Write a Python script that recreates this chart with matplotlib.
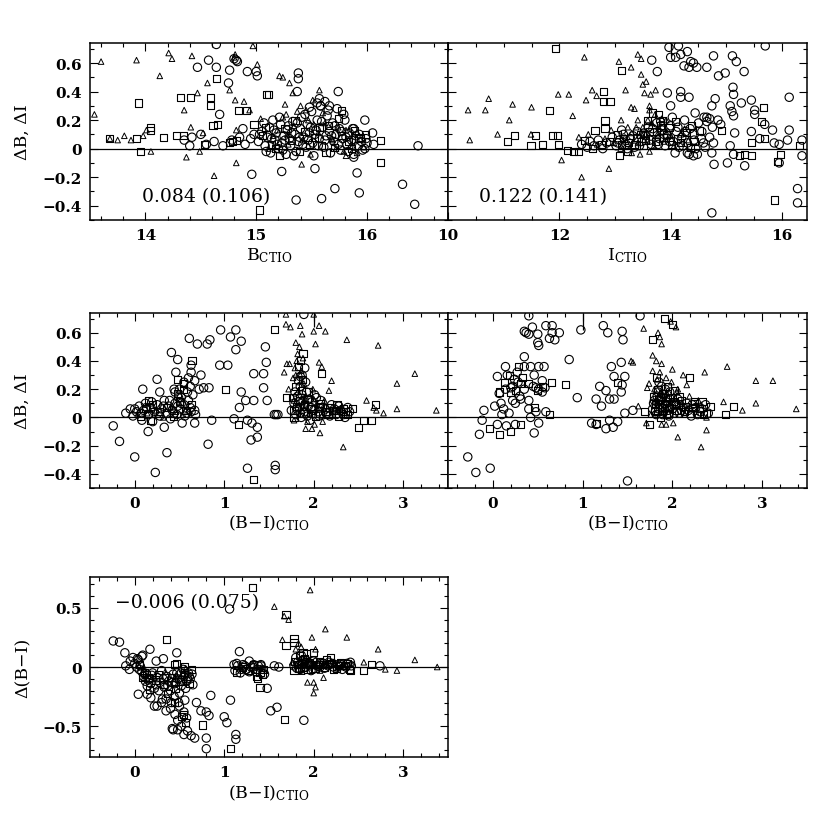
import matplotlib
matplotlib.use("Agg")
from matplotlib import pyplot as plt
from matplotlib.ticker import MultipleLocator, FuncFormatter

plt.rcParams['font.family'] = ['DejaVu Serif']
plt.rcParams['mathtext.fontset'] = 'dejavuserif'

# ---- panel 1: dB vs B_CTIO ----
p1_circ_x = [14.64, 14.47, 14.57, 14.64, 14.76, 14.75, 14.80, 14.82, 14.83, 14.92, 15.01, 15.00, 15.38, 15.38,
             15.37, 15.57, 15.58, 15.74, 15.98, 15.88, 16.05, 16.06, 16.46, 16.32, 16.43, 15.88, 15.91, 15.93,
             15.71, 15.59, 15.36, 15.53, 15.23, 14.96, 14.67,
             14.35, 14.42, 14.40, 14.55, 14.62, 14.70, 14.78, 14.85, 14.90, 14.95, 14.98, 14.88, 14.50,
             15.02, 15.05, 15.07, 15.08, 15.10, 15.12, 15.13, 15.15, 15.17, 15.18, 15.20, 15.22, 15.23, 15.25,
             15.27, 15.28, 15.30, 15.31, 15.33, 15.35, 15.36, 15.38, 15.40, 15.41, 15.43, 15.45, 15.46, 15.48,
             15.50, 15.51, 15.52, 15.54, 15.55, 15.57, 15.58, 15.60, 15.61, 15.63, 15.64, 15.66, 15.67, 15.69,
             15.70, 15.72, 15.73, 15.75, 15.76, 15.78, 15.80, 15.82, 15.84, 15.86, 15.88, 15.90, 15.92, 15.95,
             15.98, 16.00]
p1_circ_y = [0.73, 0.57, 0.62, 0.57, 0.55, 0.46, 0.63, 0.62, 0.61, 0.54, 0.51, 0.54, 0.53, 0.49,
             0.40, 0.35, 0.30, 0.40, 0.20, 0.14, 0.11, 0.03, 0.02, -0.25, -0.39, -0.06, -0.17, -0.31,
             -0.28, -0.35, -0.36, -0.14, -0.16, -0.18, 0.24,
             0.06, 0.08, 0.02, 0.03, 0.05, 0.02, 0.06, 0.08, 0.03, 0.07, 0.10, 0.14, 0.10,
             0.05, 0.12, 0.18, 0.02, 0.08, 0.15, -0.03, 0.20, 0.06, 0.11, 0.00, 0.17, 0.04, 0.09,
             -0.04, 0.13, 0.07, 0.02, 0.19, 0.10, -0.02, 0.05, 0.14, 0.22, 0.08, 0.01, 0.17, 0.11,
             0.26, 0.04, -0.05, 0.13, 0.20, 0.07, 0.30, 0.15, 0.01, 0.09, 0.23, 0.12, -0.03, 0.18,
             0.05, 0.10, 0.28, 0.14, -0.01, 0.07, 0.20, 0.03, 0.11, 0.06, -0.04, 0.09, 0.02, 0.05,
             0.00, 0.04]
p1_circ_x += [15.03, 15.09, 15.14, 15.16, 15.19, 15.21, 15.24, 15.26, 15.29, 15.32, 15.34, 15.37, 15.39, 15.42,
              15.44, 15.47, 15.49, 15.53, 15.56, 15.59, 15.62, 15.65, 15.68, 15.71, 15.74, 15.77, 15.79, 15.81,
              15.83, 15.87, 15.89, 15.93, 15.96, 15.99, 15.55, 15.62, 15.48, 15.66]
p1_circ_y += [0.10, -0.02, 0.07, 0.13, 0.03, 0.22, -0.01, 0.06, 0.16, 0.11, -0.05, 0.18, 0.08, 0.03,
              0.24, 0.06, 0.15, 0.10, 0.02, 0.19, 0.06, 0.27, 0.09, 0.16, 0.03, 0.12, 0.24, 0.08,
              -0.02, 0.14, 0.06, 0.10, -0.01, 0.07, 0.32, 0.33, 0.29, 0.30]
p1_sq_x = [13.94, 13.68, 13.92, 13.96, 14.05, 14.05, 14.16, 14.32, 14.41, 14.59, 14.59, 14.64, 14.61, 14.65,
           14.76, 14.84, 14.91, 14.98, 15.09, 15.11, 15.03, 15.77, 15.92, 16.12, 16.12, 14.28, 14.34, 14.53,
           14.79, 14.82,
           15.06, 15.14, 15.21, 15.26, 15.32, 15.39, 15.44, 15.53, 15.59, 15.65, 15.71, 15.77, 15.83, 15.89,
           15.94, 15.08, 15.17, 15.35, 15.48, 15.57, 15.63, 15.74, 15.86, 15.99]
p1_sq_y = [0.32, 0.07, 0.07, -0.02, 0.15, 0.13, 0.08, 0.36, 0.36, 0.36, 0.30, 0.49, 0.16, 0.17,
           0.04, 0.27, 0.27, 0.17, 0.38, 0.38, -0.43, 0.27, 0.07, 0.06, -0.10, 0.09, 0.09, 0.03,
           0.05, 0.06,
           0.09, 0.03, -0.05, 0.14, 0.06, -0.02, 0.12, 0.08, 0.02, 0.16, 0.01, 0.09, 0.05, 0.13,
           0.08, 0.15, 0.00, 0.20, 0.03, 0.15, -0.03, 0.21, 0.00, 0.10]
p1_tri_x = [13.60, 13.54, 13.92, 14.21, 14.24, 14.13, 14.42, 14.35, 14.41, 14.37, 14.62, 14.56, 14.47, 14.76,
            14.82, 14.81, 14.80, 14.81, 14.82, 14.97, 15.01, 14.89, 14.94, 15.41, 15.21, 15.24, 15.26, 15.27,
            15.30, 15.33, 15.57, 15.51, 15.45, 13.68, 13.75, 13.81, 13.87, 13.98, 14.01, 14.05, 15.81, 15.69,
            14.49, 14.52,
            15.04, 15.11, 15.19, 15.24, 15.29, 15.34, 15.37, 15.42, 15.47, 15.49, 15.56, 15.62, 15.68, 15.74,
            15.79, 15.85, 15.91, 15.97, 15.15, 15.28, 15.40, 15.52, 15.60, 15.72, 15.81]
p1_tri_y = [0.61, 0.24, 0.62, 0.67, 0.63, 0.51, 0.65, 0.27, 0.15, -0.06, -0.19, 0.46, 0.39, 0.41,
            0.13, 0.66, 0.64, 0.34, -0.10, 0.72, 0.59, 0.33, 0.27, -0.11, 0.51, 0.50, 0.31, 0.24,
            0.46, 0.39, 0.41, 0.34, 0.27, 0.07, 0.06, 0.09, 0.06, 0.09, 0.13, -0.02, -0.05, 0.06,
            -0.02, 0.11,
            0.21, 0.00, 0.13, 0.22, 0.03, 0.16, 0.26, 0.06, 0.20, -0.04, 0.11, 0.18, 0.07, 0.15,
            -0.02, 0.02, -0.03, 0.01, 0.09, 0.10, 0.30, 0.17, 0.25, 0.00, 0.13]

# ---- panel 2: dI vs I_CTIO ----
p2_circ_x = [13.97, 14.14, 14.00, 14.09, 14.18, 14.30, 14.36, 14.24, 14.33, 14.47, 14.41, 13.66, 13.76, 14.65,
             14.77, 15.11, 15.18, 15.32, 14.86, 14.98, 15.70, 15.12, 15.13, 13.94, 14.18, 14.18, 14.33, 14.80,
             14.74, 14.00, 14.44, 14.65, 15.07, 15.10, 15.27, 15.45, 15.51, 15.51, 16.13, 15.45, 15.15, 16.13,
             16.10, 16.36, 16.36, 15.95, 15.95, 14.78, 15.02, 15.33, 14.74, 16.28, 16.28, 14.41, 14.30, 14.74,
             14.77, 14.59, 15.07, 15.13, 15.69, 15.60, 15.83, 15.86, 15.13,
             12.40, 12.50, 12.55, 12.62, 12.70, 12.78, 12.85, 12.95, 13.02, 13.08, 13.15, 13.20, 13.28, 13.35,
             13.40, 13.48, 13.55, 13.60, 13.65, 13.70, 13.75, 13.80, 13.85, 13.90, 13.95, 14.00, 14.05, 14.10,
             14.15, 14.20, 14.25, 14.30, 14.35, 14.40, 14.45, 14.50, 14.55, 14.60, 14.65, 14.70, 14.75, 14.85,
             14.90]
p2_circ_y = [0.71, 0.72, 0.64, 0.64, 0.66, 0.68, 0.61, 0.58, 0.57, 0.57, 0.60, 0.62, 0.54, 0.57,
             0.65, 0.65, 0.61, 0.54, 0.51, 0.53, 0.72, 0.43, 0.38, 0.39, 0.40, 0.36, 0.36, 0.35,
             0.30, 0.30, 0.25, 0.22, 0.30, 0.26, 0.32, 0.34, 0.27, 0.24, 0.36, 0.12, 0.11, 0.13,
             0.06, 0.06, -0.05, 0.03, -0.10, -0.11, -0.10, -0.12, -0.45, -0.38, -0.28, -0.05, -0.03, -0.03,
             0.04, 0.04, 0.02, -0.04, 0.17, 0.07, 0.13, 0.04, 0.23,
             0.03, 0.01, 0.05, 0.02, 0.06, 0.00, 0.04, 0.08, 0.02, 0.06, 0.10, 0.03, 0.07, 0.01,
             0.12, 0.05, 0.09, 0.15, 0.03, 0.11, 0.18, 0.07, 0.13, 0.02, 0.09, 0.16, 0.05, 0.12,
             0.01, 0.08, 0.20, 0.04, 0.14, 0.10, 0.00, 0.18, 0.07, 0.22, 0.19, 0.21, 0.15, 0.20,
             0.17]
p2_circ_x += [13.05, 13.12, 13.22, 13.32, 13.44, 13.52, 13.63, 13.68, 13.78, 13.82, 13.88, 13.98, 14.03, 14.08,
              14.13, 14.22, 14.27, 14.33, 14.42, 14.48, 14.56, 14.62, 14.70]
p2_circ_y += [0.04, 0.13, 0.00, 0.09, 0.02, 0.11, 0.06, 0.14, 0.03, 0.19, 0.10, 0.05, 0.22, -0.03,
              0.15, 0.02, 0.12, -0.04, 0.06, -0.04, 0.12, 0.01, 0.08]
p2_sq_x = [11.93, 11.82, 12.80, 12.80, 12.91, 12.82, 12.82, 12.64, 13.11, 11.07, 11.19, 11.49, 11.57, 11.69,
           11.87, 11.96, 11.99, 12.15, 12.25, 12.34, 13.08, 13.23, 13.85, 14.92, 15.24, 15.33, 15.45, 15.45,
           15.63, 15.67, 15.68, 15.86, 15.92, 16.31, 15.98,
           12.45, 12.60, 12.75, 12.90, 13.05, 13.12, 13.25, 13.38, 13.52, 13.62, 13.72, 13.82, 13.92, 14.02,
           14.12, 14.28, 14.42, 13.58, 13.68, 13.78, 14.08, 14.38, 14.52,
           13.15, 13.35, 13.45, 13.55, 13.75, 13.87, 13.97, 14.17, 14.35]
p2_sq_y = [0.70, 0.27, 0.40, 0.33, 0.33, 0.20, 0.14, 0.13, 0.55, 0.05, 0.09, 0.02, 0.09, 0.03,
           0.09, 0.09, 0.03, -0.01, -0.02, -0.02, -0.05, -0.02, 0.20, 0.13, -0.05, -0.04, 0.04, -0.05,
           0.19, 0.29, 0.07, -0.36, -0.09, 0.02, -0.04,
           0.06, 0.00, 0.03, 0.05, 0.10, 0.03, 0.04, 0.08, 0.02, 0.12, 0.05, 0.16, 0.10, 0.03,
           0.07, 0.11, 0.05, 0.20, 0.25, 0.24, 0.19, 0.16, 0.13,
           0.07, 0.03, 0.10, 0.06, 0.12, 0.08, 0.15, 0.04, 0.01]
p2_tri_x = [10.36, 10.67, 10.73, 10.39, 10.89, 11.10, 11.16, 11.50, 11.49, 11.98, 12.17, 12.24, 12.04, 12.40,
            12.45, 12.48, 12.59, 12.67, 12.89, 13.07, 13.29, 13.19, 13.41, 13.47, 13.47, 13.50, 13.56, 13.53,
            13.64, 13.73, 13.29, 13.35, 13.62, 13.62, 12.93, 13.11, 13.23, 13.41, 13.47, 13.59,
            12.35, 12.52, 12.68, 12.82, 12.98, 13.10, 13.18, 13.30, 13.42, 13.50, 13.58, 13.66, 13.72, 13.76,
            13.84, 13.88, 13.96, 14.06, 14.18, 14.32, 13.45, 13.30, 13.62,
            13.20, 13.38, 13.55, 13.70, 13.80, 13.92, 14.00, 14.25]
p2_tri_y = [0.27, 0.27, 0.35, 0.06, 0.10, 0.20, 0.31, 0.29, 0.10, 0.38, 0.38, 0.23, -0.08, -0.20,
            0.64, 0.34, 0.41, 0.37, -0.14, 0.61, 0.57, 0.41, 0.66, 0.63, 0.52, 0.45, 0.47, 0.39,
            0.38, 0.41, 0.29, 0.28, 0.30, 0.27, 0.13, 0.20, 0.15, 0.20, 0.11, 0.20,
            0.08, 0.10, 0.03, 0.07, 0.04, 0.00, 0.08, 0.11, 0.04, 0.15, 0.06, 0.18, 0.24, 0.10,
            0.21, 0.05, 0.12, 0.02, 0.10, 0.06, -0.04, -0.03, -0.02,
            0.05, 0.15, 0.10, 0.02, 0.14, 0.20, 0.09, 0.14]
p2_bar_x = [14.0]
p2_bar_y0 = [0.65]

# ---- panel 3: dB vs (B-I)_CTIO ----
p3_circ_x = [-0.24, -0.17, 0.00, 0.23, 0.36, 0.09, 0.25, 0.28, 0.15, 0.33, 0.41, 0.48, 0.46, 0.44,
             0.61, 0.70, 0.81, 0.84, 0.63, 0.63, 0.74, 0.72, 0.77, 0.83, 0.67, 0.67, 0.67, 0.86, 0.82,
             0.96, 1.07, 1.13, 1.13, 1.19, 0.95, 1.04, 1.46, 1.47, 1.33, 1.44, 1.44, 1.19, 1.17, 1.24,
             1.33, 1.11, 1.26, 1.31, 1.37, 1.30, 1.37, 1.26, 1.48, 1.56, 1.58, 1.60, 1.57, 1.57, 1.85, 1.89,
             -0.10, -0.05, -0.02, 0.02, 0.05, 0.08, 0.10, 0.12, 0.15, 0.18, 0.20, 0.22, 0.25, 0.28,
             0.30, 0.33, 0.36, 0.38, 0.40, 0.42, 0.45, 0.47, 0.49, 0.51, 0.53, 0.55, 0.58, 0.60,
             0.62, 0.65, 0.68, 0.50, 0.55, 0.45, 0.60, 0.62, 0.52,
             1.75, 1.78, 1.80, 1.82, 1.84, 1.85, 1.86, 1.88, 1.90, 1.92, 1.94, 1.96, 1.98, 2.00,
             2.03, 2.06, 2.10, 2.15, 2.20, 2.25, 2.30, 2.35, 2.40, 1.87, 1.83, 1.90]
p3_circ_y = [-0.06, -0.17, -0.28, -0.39, -0.25, 0.20, 0.27, 0.18, -0.10, -0.07, 0.46, 0.41, 0.32, 0.20,
             0.56, 0.52, 0.52, 0.55, 0.37, 0.32, 0.30, 0.20, 0.21, 0.21, 0.26, 0.05, -0.04, -0.02, -0.19,
             0.62, 0.57, 0.62, 0.48, 0.54, 0.37, 0.37, 0.50, 0.39, 0.31, 0.31, 0.21, 0.18, 0.07, 0.12,
             0.12, -0.01, -0.02, -0.04, -0.07, -0.16, -0.14, -0.36, 0.12, 0.02, 0.02, 0.02, -0.34, -0.37, 0.29, 0.73,
             0.03, 0.06, 0.01, 0.04, 0.08, -0.02, 0.05, 0.10, 0.02, 0.07, -0.03, 0.04, 0.09, 0.01,
             0.06, 0.12, 0.03, 0.08, -0.01, 0.05, 0.10, 0.02, 0.14, 0.06, -0.04, 0.09, 0.03, 0.12,
             0.07, 0.16, 0.02, 0.20, 0.25, 0.18, 0.28, 0.22, 0.14,
             0.05, 0.10, 0.02, 0.15, 0.07, 0.22, 0.00, 0.12, 0.04, 0.18, 0.08, -0.02, 0.11, 0.05,
             0.14, 0.01, 0.07, 0.03, 0.09, 0.02, 0.05, 0.00, 0.04, 0.30, 0.26, 0.35]
p3_circ_x += [1.79, 1.81, 1.83, 1.85, 1.87, 1.89, 1.91, 1.93, 1.95, 1.97, 2.01, 2.05, 2.08, 2.13,
              2.18, 2.23, 2.28, 2.33, 2.38,
              0.00, 0.07, 0.13, 0.19, 0.26, 0.32, 0.39, 0.44, 0.48, 0.52, 0.56, 0.59, 0.63]
p3_circ_y += [0.18, 0.06, 0.11, 0.03, 0.16, 0.08, 0.25, 0.01, 0.13, 0.07, 0.16, 0.04, 0.12, 0.06,
              0.01, 0.06, 0.08, 0.02, 0.07,
              0.06, 0.03, 0.07, 0.11, 0.03, 0.08, 0.12, 0.03, 0.08, 0.10, 0.01, 0.18, 0.04]
p3_sq_x = [0.15, 0.15, 0.48, 0.54, 0.64, 1.01, 1.16, 1.33, 1.56, 1.70, 1.78, 1.78, 2.09, 2.22, 2.43,
           2.56, 2.65, 2.69, 2.50,
           0.06, 0.12, 0.20, 0.28, 0.35, 0.43, 0.50, 0.57, 0.63, 0.18, 0.48, 0.55,
           1.76, 1.81, 1.83, 1.86, 1.89, 1.93, 1.97, 2.02, 2.08, 2.13, 2.18, 2.24, 2.28, 2.33, 2.38, 1.85, 1.88,
           1.80, 1.84, 1.87, 1.90, 1.94, 1.99, 2.06, 2.16, 2.26, 2.36]
p3_sq_y = [0.03, 0.12, 0.27, 0.24, 0.40, 0.20, -0.05, -0.44, 0.62, 0.14, 0.05, 0.00, 0.31, 0.05, 0.06,
           -0.02, -0.02, 0.09, -0.07,
           0.01, 0.06, 0.09, 0.04, 0.07, 0.01, 0.11, 0.05, 0.09, -0.02, 0.17, 0.20,
           0.14, 0.08, 0.36, 0.19, 0.03, 0.13, 0.06, 0.01, 0.10, 0.04, 0.07, 0.05, 0.01, 0.06, 0.02, 0.40, 0.45,
           0.22, 0.12, 0.27, 0.09, 0.18, 0.03, 0.08, 0.02, 0.09, 0.04]
p3_tri_x = [1.69, 1.69, 1.74, 1.85, 1.87, 2.00, 2.06, 2.13, 2.02, 1.80, 2.37, 2.72, 2.93, 3.13, 2.93,
            3.37, 2.78, 2.33, 1.67, 2.06, 2.09, 2.17, 2.20, 2.59, 2.67, 2.70, 2.00, 1.98, 2.07, 1.91,
            0.03, 0.14, 0.24, 0.32, 0.40, 0.46, 0.54, 0.60,
            1.72, 1.77, 1.79, 1.81, 1.82, 1.84, 1.86, 1.87, 1.89, 1.91, 1.95, 1.99, 2.04, 2.12, 2.22,
            2.32, 1.93, 2.01, 2.10, 1.78, 1.70, 1.73, 1.80,
            1.78, 1.82, 1.85, 1.88, 1.92, 2.00, 2.09, 2.27]
p3_tri_y = [0.73, 0.66, 0.64, 0.65, 0.59, 0.61, 0.65, 0.61, 0.52, 0.53, 0.55, 0.51, 0.24, 0.31, 0.06,
            0.05, 0.03, -0.21, 0.32, 0.39, 0.36, 0.19, 0.26, 0.12, 0.07, 0.05, 0.73, -0.08, -0.11, -0.08,
            0.02, 0.03, 0.05, 0.00, 0.07, 0.04, 0.02, 0.05,
            0.20, 0.28, 0.35, 0.40, 0.45, 0.50, 0.33, 0.05, 0.24, 0.15, 0.03, 0.20, 0.09, 0.12, 0.06,
            0.03, -0.03, -0.05, -0.03, -0.02, 0.38, 0.38, 0.30,
            0.12, 0.18, 0.30, 0.42, 0.10, 0.13, 0.01, 0.05]
p3_bar_x = [2.0]
p3_bar_y0 = [0.64]

# ---- panel 4: dI vs (B-I)_CTIO ----
p4_circ_x = [-0.28, -0.19, -0.03, -0.15, -0.12, -0.10, 0.40, 0.35, 0.44, 0.40, 0.50, 0.51, 0.59, 0.66,
             0.66, 0.74, 0.63, 0.69, 0.37, 0.50, 0.98, 1.23, 1.28, 1.44, 1.45, 1.64, 0.85, 0.35, 0.14,
             0.05, 0.16, 0.24, 0.27, 0.35, 0.42, 0.51, 0.57, 0.46, 0.48, 0.51, 0.55, 0.07, 0.14, 0.20,
             0.09, 0.22, 0.31, 0.40, 0.48, 0.59, 0.51, 0.46, 0.25, 0.94, 1.15, 1.21, 1.19, 1.26, 1.30,
             1.35, 1.43, 1.47, 1.35, 1.32, 1.43, 1.44, 1.10, 1.15, 1.26, 1.34, 1.30, 1.39, 1.50, 1.47, 1.56,
             0.02, 0.10, 0.12, 0.18, 0.25, 0.30, 0.22, 0.28, 0.35, 0.40, 0.45, 0.55, 0.58, 0.05, 0.15, 0.42,
             1.78, 1.80, 1.82, 1.84, 1.86, 1.88, 1.90, 1.92, 1.94, 1.96, 1.98, 2.00, 2.04, 2.08, 2.12,
             2.18, 2.22, 2.28, 2.33, 2.40, 1.85, 1.88]
p4_circ_y = [-0.28, -0.39, -0.36, -0.12, -0.02, 0.05, 0.72, 0.61, 0.64, 0.59, 0.53, 0.51, 0.65, 0.65,
             0.60, 0.60, 0.56, 0.55, 0.60, 0.59, 0.62, 0.65, 0.60, 0.61, 0.55, 0.72, 0.41, 0.43, 0.36,
             0.29, 0.30, 0.27, 0.32, 0.36, 0.36, 0.36, 0.36, 0.30, 0.21, 0.20, 0.18, 0.17, 0.20, 0.21,
             0.10, 0.12, 0.13, 0.06, 0.04, 0.04, -0.04, -0.11, -0.05, 0.14, 0.13, 0.08, 0.22, 0.19, 0.13,
             0.13, 0.18, 0.29, 0.29, 0.36, 0.39, 0.23, -0.04, -0.05, -0.08, -0.07, -0.02, -0.03, -0.45, 0.03, 0.05,
             0.08, 0.02, 0.06, 0.03, 0.10, 0.15, 0.22, 0.25, 0.20, 0.12, 0.22, 0.26, 0.21, -0.05, -0.06, 0.00,
             0.06, 0.12, 0.02, 0.18, 0.09, 0.14, 0.04, 0.20, 0.08, 0.01, 0.13, 0.06, 0.10, 0.03, 0.07,
             0.05, 0.09, 0.02, 0.06, 0.03, 0.25, 0.22]
p4_circ_x += [1.79, 1.81, 1.83, 1.85, 1.87, 1.89, 1.91, 1.93, 1.95, 1.97, 1.99, 2.02, 2.06, 2.10,
              2.16, 2.21, 2.26, 2.31, 2.37]
p4_circ_y += [0.10, 0.04, 0.15, 0.06, 0.12, 0.02, 0.16, 0.11, 0.05, 0.18, 0.08, 0.03, 0.13, 0.05,
              0.10, 0.01, 0.07, 0.04, 0.09]
p4_sq_x = [1.91, 2.00, 1.78, 0.65, 0.81, 0.29, 0.31, 0.20, 0.07, -0.04, 0.07, 0.20, 0.31, 0.46, 0.63,
           1.39, 1.15, 2.19, 2.25, 2.38, 2.68, 2.59, 1.75, 1.69,
           0.13, 0.18, 0.25, 0.33, 0.40, 0.50, 0.55,
           1.79, 1.81, 1.83, 1.85, 1.87, 1.89, 1.91, 1.93, 1.95, 1.97, 2.01, 2.05, 2.10, 2.15, 2.20,
           2.25, 2.30, 2.35, 2.42, 1.95, 2.02, 1.82,
           1.80, 1.84, 1.88, 1.92, 1.96, 2.03, 2.08, 2.13, 2.23, 2.33]
p4_sq_y = [0.70, 0.66, 0.55, 0.25, 0.23, 0.36, 0.24, 0.18, 0.18, -0.08, -0.12, -0.10, -0.05, 0.07, 0.02,
           0.25, -0.04, 0.28, 0.11, 0.03, 0.08, 0.02, -0.05, 0.04,
           0.25, 0.30, 0.19, 0.28, 0.24, 0.19, 0.22,
           0.15, 0.09, 0.04, 0.13, 0.00, 0.17, 0.10, 0.02, 0.14, 0.07, 0.11, 0.05, 0.12, 0.08, 0.03,
           0.10, 0.06, 0.02, 0.08, 0.22, 0.19, 0.28,
           0.05, 0.20, 0.07, 0.14, 0.03, 0.09, 0.15, 0.04, 0.07, 0.11]
p4_tri_x = [1.68, 1.84, 1.88, 1.86, 1.98, 2.04, 1.54, 1.78, 1.82, 2.12, 2.36, 2.61, 2.93, 3.12, 2.93,
            3.38, 2.57, 2.78, 2.06, 2.32, 2.38, 1.62, 1.71, 1.88, 1.93, 2.01, 1.56, 2.00, 2.06, 2.16,
            1.76, 1.80, 1.83, 1.84, 1.86, 1.88, 1.90, 1.93, 1.96, 1.99, 2.03, 2.07, 2.14, 2.19, 2.26,
            2.32, 2.38, 1.74, 1.72, 1.78,
            1.82, 1.87, 1.91, 1.95, 2.05, 2.11, 2.29]
p4_tri_y = [0.63, 0.60, 0.52, 0.57, 0.68, 0.64, 0.40, 0.44, 0.40, 0.30, 0.32, 0.36, 0.26, 0.26, 0.10,
            0.06, 0.11, 0.05, -0.14, -0.21, -0.09, 0.08, -0.04, -0.05, -0.05, -0.04, 0.39, 0.34, 0.20, 0.23,
            0.02, 0.20, 0.27, 0.10, 0.32, 0.38, 0.15, 0.28, 0.18, 0.25, 0.14, 0.08, 0.02, 0.15, 0.04,
            0.09, 0.00, 0.24, 0.21, 0.33,
            0.12, 0.17, 0.04, 0.10, 0.18, 0.10, 0.12]
p4_bar_x = [1.0]
p4_bar_y0 = [0.62]

# ---- panel 5: d(B-I) vs (B-I)_CTIO ----
p5_circ_x = [-0.24, -0.17, -0.11, -0.10, -0.06, -0.02, 0.04, 0.09, 0.17, 0.24, 0.32, 0.47, 0.04, 0.22,
             0.31, 0.35, 0.41, 0.43, 0.48, 0.55, 0.59, 0.63, 0.67, 0.80, 0.80, 0.74, 0.80, 0.83, 0.85,
             0.69, 0.65, 0.64, 1.00, 1.03, 1.07, 1.13, 1.13, 1.11, 1.17, 1.24, 1.28, 1.33, 1.41, 1.48,
             1.52, 1.59, 1.89, 1.56, 1.61, 2.74, 1.06, 0.46, 0.52, 0.59, 0.54,
             -0.05, 0.00, 0.03, 0.06, 0.08, 0.10, 0.12, 0.14, 0.16, 0.18, 0.20, 0.22, 0.25, 0.28,
             0.30, 0.33, 0.36, 0.38, 0.40, 0.43, 0.45, 0.48, 0.50, 0.52, 0.55, 0.58, 0.60, 0.62,
             0.18, 0.14, 0.30, 0.35, 0.40, 0.45, 0.50, 0.55, 0.58, 0.48, 0.52, 0.42, 0.25, 0.08,
             1.12, 1.15, 1.18, 1.21, 1.25, 1.30, 1.35, 1.38, 1.42, 1.45,
             1.78, 1.82, 1.85, 1.88, 1.91, 1.94, 1.97, 2.00, 2.04, 2.08, 2.12, 2.17, 2.22, 2.27,
             2.32, 2.37, 2.42, 1.80, 1.86]
p5_circ_y = [0.22, 0.21, 0.12, 0.01, -0.02, 0.08, 0.06, 0.10, 0.15, 0.05, 0.07, 0.12, -0.23, -0.33,
             -0.27, -0.37, -0.30, -0.53, -0.53, -0.57, -0.54, -0.58, -0.60, -0.69, -0.60, -0.37, -0.38, -0.41, -0.24,
             -0.30, -0.15, -0.06, -0.42, -0.47, -0.28, -0.57, -0.61, 0.02, 0.13, -0.02, 0.05, 0.02, 0.01, -0.18,
             -0.37, -0.34, -0.45, 0.01, 0.00, 0.01, 0.49, -0.13, -0.05, -0.10, -0.02,
             0.05, 0.03, 0.07, 0.01, -0.04, -0.08, -0.12, -0.16, -0.10, -0.14, -0.05, -0.18, -0.09, -0.13,
             -0.03, -0.17, -0.08, -0.12, -0.20, -0.06, -0.14, -0.10, -0.22, -0.16, -0.08, -0.12, -0.05, -0.10,
             -0.26, -0.23, -0.30, -0.27, -0.35, -0.40, -0.33, -0.38, -0.43, -0.45, -0.50, -0.52, -0.33, 0.09,
             -0.03, 0.01, -0.05, 0.02, -0.02, 0.00, -0.04, 0.01, -0.02, -0.06,
             0.01, 0.04, -0.02, 0.06, 0.00, 0.03, -0.03, 0.05, 0.01, 0.03, -0.01, 0.04, 0.00, 0.02,
             -0.02, 0.03, 0.01, 0.08, 0.10]
p5_circ_x += [1.81, 1.84, 1.87, 1.90, 1.93, 1.96, 1.99, 2.03, 2.07, 2.11, 2.16, 2.21, 2.26, 2.31, 2.36, 2.41,
              0.02, 0.05, 0.11, 0.15, 0.19, 0.24, 0.27, 0.32, 0.37, 0.42, 0.47, 0.53, 0.57, 0.61, 0.44, 0.49, 0.56,
              1.14, 1.19, 1.23, 1.28, 1.32, 1.37, 1.41]
p5_circ_y += [-0.01, 0.02, 0.05, 0.02, 0.04, 0.01, -0.02, 0.04, 0.00, 0.03, 0.01, 0.03, 0.00, 0.02, 0.00, 0.04,
              0.00, -0.02, -0.06, -0.11, -0.07, -0.15, -0.20, -0.10, -0.16, -0.13, -0.05, -0.11, -0.18, -0.08, -0.25, -0.30, -0.28,
              0.03, -0.02, 0.01, -0.04, 0.00, -0.02, 0.02]
p5_sq_x = [0.36, 1.32, 1.69, 1.67, 1.07, 1.40, 0.76, 0.54, 0.57, 0.44, 0.56, 0.63, 0.15, 0.11, 1.78,
           1.78, 1.69, 2.00, 2.19, 2.41, 2.56, 2.65, 2.22, 1.78, 1.37, 1.43,
           0.05, 0.09, 0.13, 0.17, 0.23, 0.27, 0.32, 0.37, 0.41, 0.46, 0.51, 0.56, 0.61, 0.44, 0.52, 0.47,
           1.14, 1.20, 1.27, 1.33, 1.40, 1.44, 1.36,
           1.79, 1.83, 1.86, 1.90, 1.93, 1.96, 2.02, 2.06, 2.10, 2.14, 2.20, 2.25, 2.30, 2.35, 2.40,
           1.88, 1.84, 1.92,
           1.82, 1.89, 1.95, 2.05, 2.12, 2.18, 2.28, 2.38]
p5_sq_y = [0.23, 0.67, 0.44, -0.44, -0.69, -0.17, -0.49, -0.40, -0.47, 0.02, 0.00, -0.02, -0.09, -0.05, 0.24,
           0.21, 0.18, 0.12, 0.08, -0.03, -0.03, 0.02, -0.02, -0.03, -0.10, -0.06,
           0.02, -0.09, -0.06, -0.19, -0.11, -0.06, -0.15, -0.22, -0.09, -0.18, -0.12, -0.05, -0.14, -0.30, -0.42, 0.03,
           -0.05, 0.00, -0.03, 0.02, -0.05, -0.02, -0.08,
           0.05, -0.01, 0.03, 0.07, -0.02, 0.02, -0.01, 0.05, 0.02, 0.06, 0.03, -0.01, 0.04, 0.01, -0.02,
           0.12, 0.10, 0.11,
           0.02, 0.00, 0.04, 0.02, 0.00, 0.03, 0.01, 0.03]
p5_tri_x = [1.96, 1.56, 1.67, 1.72, 1.65, 2.13, 1.98, 2.37, 2.72, 3.13, 3.38, 2.93, 2.80, 2.56, 2.00,
            1.93, 2.00, 2.02, 2.11, 2.02,
            0.10, 0.22, 0.34, 0.46, 0.57,
            1.81, 1.87, 1.95, 2.01, 2.07, 2.15, 2.23, 2.33, 2.44, 1.76, 1.80, 1.86, 1.83]
p5_tri_y = [0.65, 0.51, 0.43, 0.40, 0.23, 0.32, 0.25, 0.25, 0.15, 0.06, 0.00, -0.03, -0.02, 0.04, -0.13,
            -0.13, -0.22, -0.17, -0.09, 0.15,
            0.00, -0.08, -0.04, -0.07, -0.01,
            0.02, -0.04, 0.06, 0.02, -0.03, 0.01, 0.04, 0.00, 0.02, 0.04, 0.15, 0.17, 0.20]


def fmt(v, pos):
    s = '%g' % round(v, 3)
    return s.replace('-', '\u2212')


def draw(ax, cx, cy, sx, sy, tx, ty):
    ax.axhline(0, color='black', lw=0.9, zorder=1)
    ax.scatter(cx, cy, s=36, marker='o', facecolors='none', edgecolors='black', linewidths=0.8, zorder=2)
    ax.scatter(sx, sy, s=26, marker='s', facecolors='none', edgecolors='black', linewidths=0.8, zorder=2)
    ax.scatter(tx, ty, s=16, marker='^', facecolors='none', edgecolors='black', linewidths=0.7, zorder=2)
    ax.tick_params(which='both', direction='in', top=True, right=True, labelsize=11, width=0.8)
    ax.tick_params(which='major', length=6, pad=6)
    ax.tick_params(which='minor', length=3)
    ax.xaxis.set_major_formatter(FuncFormatter(fmt))
    ax.yaxis.set_major_formatter(FuncFormatter(fmt))
    for t in ax.get_xticklabels() + ax.get_yticklabels():
        t.set_fontweight('bold')
    for sp in ax.spines.values():
        sp.set_linewidth(1.1)


fig = plt.figure(figsize=(8.3, 8.2), dpi=100)
ax1 = fig.add_axes([0.1084, 0.7305, 0.4313, 0.2158])
ax2 = fig.add_axes([0.5398, 0.7305, 0.4325, 0.2158])
ax3 = fig.add_axes([0.1084, 0.4037, 0.4313, 0.2134])
ax4 = fig.add_axes([0.5398, 0.4037, 0.4325, 0.2134])
ax5 = fig.add_axes([0.1084, 0.0756, 0.4313, 0.2195])

ax2.vlines(p2_bar_x, p2_bar_y0, 0.74, color='black', lw=0.9)
ax3.vlines(p3_bar_x, p3_bar_y0, 0.74, color='black', lw=0.9)
ax4.vlines(p4_bar_x, p4_bar_y0, 0.74, color='black', lw=0.9)

for ax in (ax1, ax2, ax3, ax4):
    ax.set_ylim(-0.5, 0.74)
    ax.yaxis.set_major_locator(MultipleLocator(0.2))
    ax.yaxis.set_minor_locator(MultipleLocator(0.1))
ax5.set_ylim(-0.76, 0.76)
ax5.yaxis.set_major_locator(MultipleLocator(0.5))
ax5.yaxis.set_minor_locator(MultipleLocator(0.1))

ax1.set_xlim(13.5, 16.73)
ax1.xaxis.set_major_locator(MultipleLocator(1))
ax1.xaxis.set_minor_locator(MultipleLocator(0.2))
ax2.set_xlim(10, 16.45)
ax2.xaxis.set_major_locator(MultipleLocator(2))
ax2.xaxis.set_minor_locator(MultipleLocator(0.5))
for ax in (ax3, ax4, ax5):
    ax.set_xlim(-0.5, 3.5)
    ax.xaxis.set_major_locator(MultipleLocator(1))
    ax.xaxis.set_minor_locator(MultipleLocator(0.2))

draw(ax1, p1_circ_x, p1_circ_y, p1_sq_x, p1_sq_y, p1_tri_x, p1_tri_y)
draw(ax2, p2_circ_x, p2_circ_y, p2_sq_x, p2_sq_y, p2_tri_x, p2_tri_y)
draw(ax3, p3_circ_x, p3_circ_y, p3_sq_x, p3_sq_y, p3_tri_x, p3_tri_y)
draw(ax4, p4_circ_x, p4_circ_y, p4_sq_x, p4_sq_y, p4_tri_x, p4_tri_y)
draw(ax5, p5_circ_x, p5_circ_y, p5_sq_x, p5_sq_y, p5_tri_x, p5_tri_y)

ax2.tick_params(labelleft=False)
ax4.tick_params(labelleft=False)

lab = 12.5
ax1.set_xlabel(r'B$_{\mathrm{CTIO}}$', fontsize=lab, labelpad=2)
ax2.set_xlabel(r'I$_{\mathrm{CTIO}}$', fontsize=lab, labelpad=2)
ax3.set_xlabel(r'(B$-$I)$_{\mathrm{CTIO}}$', fontsize=lab, labelpad=2)
ax4.set_xlabel(r'(B$-$I)$_{\mathrm{CTIO}}$', fontsize=lab, labelpad=2)
ax5.set_xlabel(r'(B$-$I)$_{\mathrm{CTIO}}$', fontsize=lab, labelpad=2)
ax1.set_ylabel('\u0394B, \u0394I', fontsize=lab, labelpad=8)
ax3.set_ylabel('\u0394B, \u0394I', fontsize=lab, labelpad=8)
ax5.set_ylabel('\u0394(B\u2212I)', fontsize=lab, labelpad=8)

ax1.text(13.97, -0.33, '0.084 (0.106)', fontsize=13.5, va='center', ha='left')
ax2.text(10.56, -0.33, '0.122 (0.141)', fontsize=13.5, va='center', ha='left')
ax5.text(-0.22, 0.55, '\u22120.006 (0.075)', fontsize=13.5, va='center', ha='left')

fig.savefig('out.png', dpi=100)
